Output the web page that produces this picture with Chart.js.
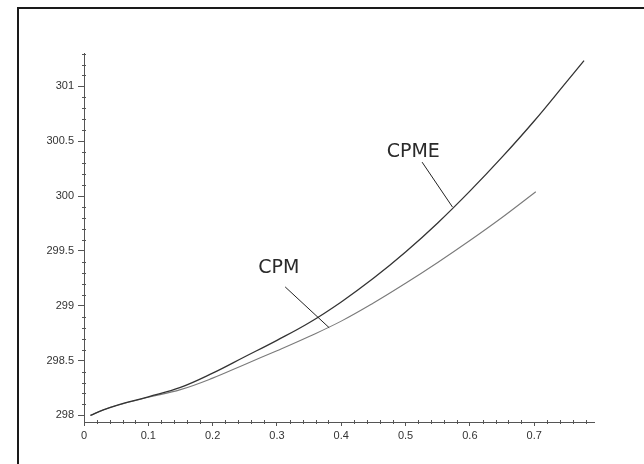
<!DOCTYPE html>
<html>
<head>
<meta charset="utf-8">
<script src="https://cdn.jsdelivr.net/npm/chart.js@4"></script>
<style>
  html, body { margin: 0; padding: 0; background: #ffffff; }
  canvas { display: block; }
</style>
</head>
<body>
<canvas id="c" width="644" height="464"></canvas>
<script>
// CPME curve
const cpmeX = [0.01, 0.03, 0.05, 0.1, 0.15, 0.2, 0.25, 0.3, 0.35, 0.4, 0.45, 0.5, 0.55, 0.6, 0.65, 0.7, 0.75, 0.7775];
const cpmeY = [298.00, 298.05, 298.09, 298.17, 298.255, 298.385, 298.535, 298.685, 298.845, 299.035, 299.25, 299.49, 299.755, 300.045, 300.355, 300.685, 301.04, 301.236];

// CPM curve
const cpmX = [0.01, 0.03, 0.05, 0.1, 0.15, 0.2, 0.25, 0.3, 0.35, 0.4, 0.45, 0.5, 0.55, 0.6, 0.65, 0.7025];
const cpmY = [298.00, 298.05, 298.09, 298.165, 298.235, 298.34, 298.465, 298.59, 298.72, 298.86, 299.025, 299.205, 299.395, 299.595, 299.805, 300.04];

// Axis ticks
const xTicks = [0, 0.1, 0.2, 0.3, 0.4, 0.5, 0.6, 0.7];
const yTicks = [298, 298.5, 299, 299.5, 300, 300.5, 301];
const xMinorStep = 0.02;
const yMinorStep = 0.1;

// Curve labels: text anchor and leader line [from, to] in data units
const curveLabels = [
  { text: 'CPME', at: [0.512, 300.404], line: [[0.5257, 300.31], [0.573, 299.90]] },
  { text: 'CPM',  at: [0.303, 299.348], line: [[0.3128, 299.172], [0.3812, 298.80]] }
];

const toPoints = (xs, ys) => xs.map((x, i) => ({ x: x, y: ys[i] }));

const framePlugin = {
  id: 'frame',
  beforeDraw(chart) {
    const ctx = chart.ctx;
    ctx.save();
    ctx.strokeStyle = '#1a1a1a';
    ctx.lineWidth = 2;
    ctx.strokeRect(18, 8, 700, 520);
    ctx.restore();
  }
};

const minorTickPlugin = {
  id: 'minorTicks',
  afterDraw(chart) {
    const ctx = chart.ctx;
    const xs = chart.scales.x, ys = chart.scales.y;
    const area = chart.chartArea;
    ctx.save();
    ctx.strokeStyle = '#555';
    ctx.lineWidth = 1;
    ctx.beginPath();
    for (let i = 1; i * xMinorStep <= xs.max + 1e-9; i++) {
      if (i % 5 === 0) continue;
      const px = Math.round(xs.getPixelForValue(i * xMinorStep)) + 0.5;
      ctx.moveTo(px, area.bottom - 2);
      ctx.lineTo(px, area.bottom + 2);
    }
    for (let i = 1; 298 + i * yMinorStep <= ys.max + 1e-9; i++) {
      if (i % 5 === 0) continue;
      const py = Math.round(ys.getPixelForValue(298 + i * yMinorStep)) + 0.5;
      ctx.moveTo(area.left - 2, py);
      ctx.lineTo(area.left + 2, py);
    }
    ctx.stroke();
    ctx.restore();
  }
};

const labelPlugin = {
  id: 'curveLabels',
  afterDatasetsDraw(chart) {
    const ctx = chart.ctx;
    const xs = chart.scales.x, ys = chart.scales.y;
    ctx.save();
    curveLabels.forEach(l => {
      ctx.strokeStyle = '#222';
      ctx.lineWidth = 1;
      ctx.beginPath();
      ctx.moveTo(xs.getPixelForValue(l.line[0][0]), ys.getPixelForValue(l.line[0][1]));
      ctx.lineTo(xs.getPixelForValue(l.line[1][0]), ys.getPixelForValue(l.line[1][1]));
      ctx.stroke();
      ctx.fillStyle = '#2a2a2a';
      ctx.font = '19px "DejaVu Sans"';
      ctx.textAlign = 'center';
      ctx.textBaseline = 'middle';
      ctx.fillText(l.text, xs.getPixelForValue(l.at[0]), ys.getPixelForValue(l.at[1]));
    });
    ctx.restore();
  }
};

const tickFont = { family: '"Liberation Sans", Arial, sans-serif', size: 11 };

new Chart(document.getElementById('c'), {
  type: 'line',
  data: {
    datasets: [
      {
        label: 'CPME',
        data: toPoints(cpmeX, cpmeY),
        borderColor: '#333333',
        borderWidth: 1.3,
        pointRadius: 0,
        fill: false,
        tension: 0.4
      },
      {
        label: 'CPM',
        data: toPoints(cpmX, cpmY),
        borderColor: '#7a7a7a',
        borderWidth: 1.1,
        pointRadius: 0,
        fill: false,
        tension: 0.4
      }
    ]
  },
  options: {
    responsive: false,
    animation: false,
    devicePixelRatio: 1,
    layout: { padding: { top: 53, right: 50, left: 0, bottom: 0 } },
    plugins: { legend: { display: false }, tooltip: { enabled: false } },
    scales: {
      x: {
        type: 'linear',
        min: 0,
        max: 0.793,
        afterBuildTicks: s => { s.ticks = xTicks.map(v => ({ value: v })); },
        afterFit: s => { s.height = 42; },
        grid: { display: true, drawOnChartArea: false, drawTicks: true, tickLength: 4, color: '#555' },
        border: { display: true, color: '#555', width: 1 },
        ticks: { font: tickFont, color: '#333', padding: 3, maxRotation: 0, autoSkip: false, callback: v => String(v) }
      },
      y: {
        type: 'linear',
        min: 297.94,
        max: 301.305,
        afterBuildTicks: s => { s.ticks = yTicks.map(v => ({ value: v })); },
        afterFit: s => { s.width = 84; },
        grid: { display: true, drawOnChartArea: false, drawTicks: true, tickLength: 6, color: '#555' },
        border: { display: true, color: '#555', width: 1 },
        ticks: { font: tickFont, color: '#333', padding: 4, autoSkip: false, callback: v => String(v) }
      }
    }
  },
  plugins: [framePlugin, minorTickPlugin, labelPlugin]
});
</script>
</body>
</html>
